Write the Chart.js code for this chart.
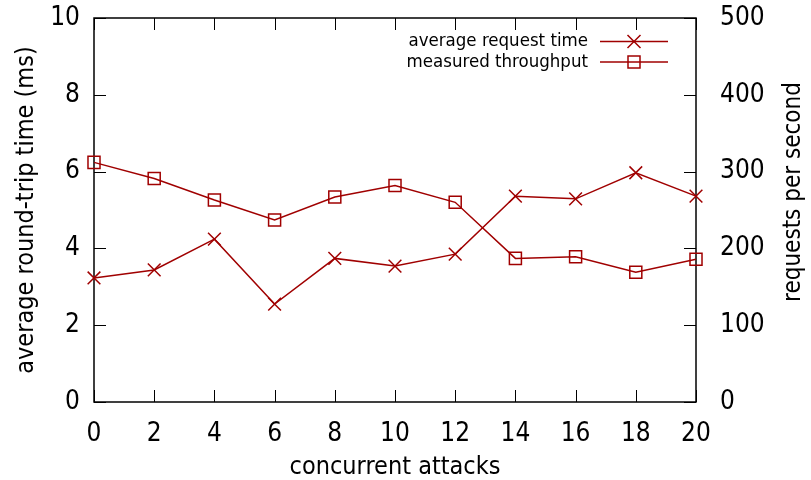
<!DOCTYPE html>
<html>
<head>
<meta charset="utf-8">
<script src="https://cdn.jsdelivr.net/npm/chart.js@4/dist/chart.umd.min.js"></script>
<style>
  html, body { margin: 0; padding: 0; background: #fff; }
</style>
</head>
<body>
<canvas id="rtt" width="811" height="480"></canvas>
<script>
(function(){
    // values
    const attacks = [0, 2, 4, 6, 8, 10, 12, 14, 16, 18, 20];
    const requestTime = [3.23, 3.44, 4.24, 2.55, 3.74, 3.54, 3.85, 5.36, 5.29, 5.97, 5.36];
    const throughput = [312, 291, 263, 237, 267, 282, 260, 187, 189, 169, 186];

    const xTicks = [0, 2, 4, 6, 8, 10, 12, 14, 16, 18, 20];
    const leftTicks = [0, 2, 4, 6, 8, 10];
    const rightTicks = [0, 100, 200, 300, 400, 500];

    const red = "#a00000";
    const fam = "'DejaVu Sans Condensed', 'DejaVu Sans', sans-serif";

    Chart.defaults.font.family = fam;
    Chart.defaults.color = "#000";

    function setTicks(list) {
        return function (scale) {
            scale.ticks = list.map(function (v) { return { value: v }; });
        };
    }

    // fixed box sizes so the plot area lands where gnuplot put it
    function fitTo(w, h) {
        return function (scale) {
            if (w) scale.width = w;
            if (h) scale.height = h;
            scale.paddingTop = 0;
            scale.paddingBottom = 0;
            scale.paddingLeft = 0;
            scale.paddingRight = 0;
        };
    }

    // gnuplot style frame with inward ticks + the legend box
    const frame = {
        id: "frame",
        beforeDatasetsDraw: function (chart) {
            const ctx = chart.ctx, a = chart.chartArea, s = chart.scales;
            const tl = 12;
            ctx.save();
            ctx.strokeStyle = "#000";
            ctx.lineWidth = 1;
            ctx.beginPath();
            xTicks.forEach(function (v) {
                const px = Math.round(s.x.getPixelForValue(v)) + 0.5;
                ctx.moveTo(px, a.bottom); ctx.lineTo(px, a.bottom - tl);
                ctx.moveTo(px, a.top); ctx.lineTo(px, a.top + tl);
            });
            leftTicks.forEach(function (v) {
                const py = Math.round(s.y.getPixelForValue(v)) + 0.5;
                ctx.moveTo(a.left, py); ctx.lineTo(a.left + tl, py);
            });
            rightTicks.forEach(function (v) {
                const py = Math.round(s.y1.getPixelForValue(v)) + 0.5;
                ctx.moveTo(a.right, py); ctx.lineTo(a.right - tl, py);
            });
            ctx.stroke();
            ctx.lineWidth = 1.5;
            ctx.strokeRect(a.left, a.top, a.right - a.left, a.bottom - a.top);
            ctx.restore();
        },
        afterDraw: function (chart) {
            const ctx = chart.ctx;
            ctx.save();
            // right axis title, reading bottom to top like the left one
            ctx.fillStyle = "#000";
            ctx.font = "24px " + fam;
            ctx.textAlign = "center";
            ctx.textBaseline = "middle";
            ctx.translate(794, 192);
            ctx.rotate(-Math.PI / 2);
            ctx.fillText("requests per second", 0, 0);
            ctx.restore();

            ctx.save();
            ctx.font = "18.5px " + fam;
            ctx.textAlign = "right";
            ctx.textBaseline = "middle";
            chart.data.datasets.forEach(function (ds, i) {
                const y = 41.5 + i * 20.5;
                ctx.fillStyle = "#000";
                ctx.fillText(ds.label, 588, y);
                ctx.strokeStyle = ds.borderColor;
                ctx.lineWidth = 1.5;
                ctx.beginPath();
                ctx.moveTo(600, y); ctx.lineTo(668, y);
                ctx.stroke();
                const mx = 634;
                ctx.beginPath();
                if (ds.pointStyle === "crossRot") {
                    ctx.moveTo(mx - 6.5, y - 6.5); ctx.lineTo(mx + 6.5, y + 6.5);
                    ctx.moveTo(mx + 6.5, y - 6.5); ctx.lineTo(mx - 6.5, y + 6.5);
                    ctx.stroke();
                } else {
                    ctx.strokeRect(mx - 6, y - 6, 12, 12);
                }
            });
            ctx.restore();
        }
    };

    const ctx = document.getElementById("rtt");
    new Chart(ctx, {
        type: "line",
        data: {
            datasets: [
                {
                    label: "average request time",
                    data: attacks.map(function (x, i) { return { x: x, y: requestTime[i] }; }),
                    yAxisID: "y",
                    borderColor: red,
                    backgroundColor: "transparent",
                    borderWidth: 1.5,
                    pointStyle: "crossRot",
                    pointRadius: 9,
                    pointBorderWidth: 1.5,
                    pointBorderColor: red,
                    tension: 0,
                    clip: false,
                },
                {
                    label: "measured throughput",
                    data: attacks.map(function (x, i) { return { x: x, y: throughput[i] }; }),
                    yAxisID: "y1",
                    borderColor: red,
                    backgroundColor: "transparent",
                    borderWidth: 1.5,
                    pointStyle: "rect",
                    pointRadius: 8.5,
                    pointBorderWidth: 1.5,
                    pointBorderColor: red,
                    pointBackgroundColor: "transparent",
                    tension: 0,
                    clip: false,
                },
            ],
        },
        options: {
            responsive: false,
            animation: false,
            events: [],
            layout: { padding: { top: 18, left: 0, right: 0, bottom: 0 } },
            plugins: {
                legend: { display: false },
                tooltip: { enabled: false },
            },
            scales: {
                x: {
                    type: "linear",
                    min: 0,
                    max: 20,
                    afterBuildTicks: setTicks(xTicks),
                    afterFit: fitTo(0, 78),
                    grid: { display: false },
                    border: { display: false },
                    ticks: { font: { size: 26 }, padding: 9, maxRotation: 0, autoSkip: false },
                    title: { display: true, text: "concurrent attacks", font: { size: 25 }, padding: { top: 0, bottom: -2 } },
                },
                y: {
                    position: "left",
                    min: 0,
                    max: 10,
                    afterBuildTicks: setTicks(leftTicks),
                    afterFit: fitTo(94, 0),
                    grid: { display: false },
                    border: { display: false },
                    ticks: { font: { size: 26 }, padding: 6 },
                    title: { display: true, text: "average round-trip time (ms)", font: { size: 25 }, padding: { top: 11, bottom: 0 } },
                },
                y1: {
                    position: "right",
                    min: 0,
                    max: 500,
                    afterBuildTicks: setTicks(rightTicks),
                    afterFit: fitTo(115, 0),
                    grid: { display: false },
                    border: { display: false },
                    ticks: { font: { size: 26 }, padding: 16 },
                },
            },
        },
        plugins: [frame],
    });
})();
</script>
</body>
</html>
